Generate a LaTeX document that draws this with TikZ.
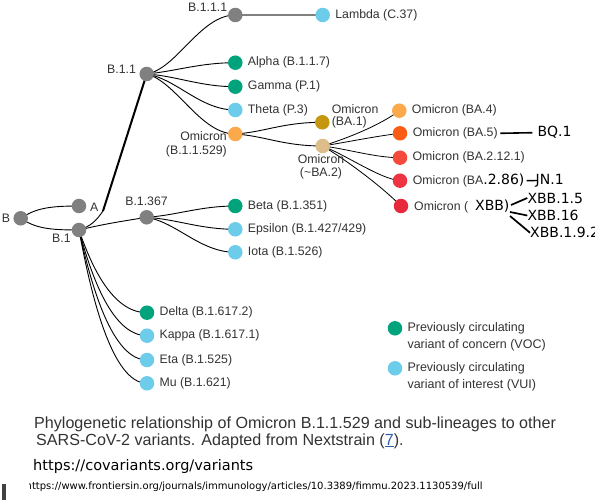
\documentclass[tikz,border=0pt]{standalone}
\usepackage{fontspec}
\setmainfont{Liberation Sans}
\newfontfamily\dejavu{DejaVu Sans}
\usetikzlibrary{backgrounds}
\definecolor{cgray}{HTML}{808080}
\definecolor{cgreen}{HTML}{00A37C}
\definecolor{cblue}{HTML}{6CCCEA}
\definecolor{cbafour}{HTML}{FBA94B}
\definecolor{cbaone}{HTML}{C5970F}
\definecolor{cbatwo}{HTML}{DDBE8A}
\definecolor{cbafive}{HTML}{F95C12}
\definecolor{cbatwelve}{HTML}{F4493B}
\definecolor{cbaeightsix}{HTML}{EE3442}
\definecolor{cxbb}{HTML}{E8283B}
\definecolor{ctext}{HTML}{333333}
\definecolor{clink}{HTML}{2A5DB0}
\begin{document}
\begin{tikzpicture}[x=1pt,y=-1pt,
  dot/.style={circle,inner sep=0pt,minimum size=14.5pt,fill=#1,draw=none},
  lab/.style={font=\fontsize{12.3}{13.7}\selectfont,text=ctext,inner sep=0pt},
  leaf/.style={label={[lab,label distance=5pt]0:#1}},
  edge/.style={draw=black,line width=0.9pt},
  big/.style={font=\dejavu\fontsize{14}{16}\selectfont,inner sep=0pt,text=black},
  conn/.style={draw=black,line width=1.6pt},
  captext/.style={font=\fontsize{16.1}{17}\selectfont,text=ctext,inner sep=0pt,anchor=west},
]
\useasboundingbox (0,0) rectangle (595,500);

% ---- tree nodes ----
\node[dot=cgray] (B) at (20.7,218.3) {};
\node[lab,anchor=west] (Bl) at (1.7,218.3) {B};
\node[dot=cgray] (A) at (79,206) {};
\node[lab,anchor=west] (Al) at (90,207) {A};
\node[dot=cgray] (B1) at (79,230) {};
\node[lab,anchor=west] (B1l) at (52,238) {B.1};
\node[dot=cgray] (B11) at (146.7,74) {};
\node[lab,anchor=west] (B11l) at (107,69) {B.1.1};
\node[dot=cgray] (B111) at (235.3,15) {};
\node[lab,anchor=west] (B111l) at (188,7) {B.1.1.1};
\node[dot=cblue,leaf={Lambda (C.37)}] (lam) at (322.7,15) {};
\node[dot=cgreen,leaf={Alpha (B.1.1.7)}] (alpha) at (235.3,62.7) {};
\node[dot=cgreen,leaf={Gamma (P.1)}] (gamma) at (235.3,86.7) {};
\node[dot=cblue,leaf={Theta (P.3)}] (theta) at (235.3,110) {};
\node[dot=cbafour] (om) at (235.3,134) {};
\node[lab,anchor=east,align=right] (oml) at (227,144) {Omicron\\(B.1.1.529)};
\node[dot=cbaone] (ba1) at (322.3,122.3) {};
\node[lab,anchor=west,align=left,font=\fontsize{12.3}{12.4}\selectfont] (ba1l) at (331.7,116.2) {Omicron\\(BA.1)};
\node[dot=cbatwo] (ba2) at (322.7,146) {};
\node[lab,align=center,font=\fontsize{12.3}{12.4}\selectfont] (ba2l) at (321,167) {Omicron\\(\textasciitilde BA.2)};
\node[dot=cbafour,leaf={Omicron (BA.4)}] (ba4) at (399.3,110.7) {};
\node[dot=cbafive] (ba5) at (400,133.3) {};
\node[lab,anchor=west] (ba5l) at (412.7,133.3) {Omicron (BA.5)};
\node[dot=cbatwelve,leaf={Omicron (BA.2.12.1)}] (ba212) at (400,157.7) {};
\node[dot=cbaeightsix] (ba286) at (400,180.7) {};
\node[lab,anchor=west] (ba286l) at (412.7,180.7) {Omicron (BA{\dejavu\fontsize{14}{16}\selectfont\color{black}.2.86)}};
\node[dot=cxbb] (xbb) at (401,206) {};
\node[lab,anchor=west] (xbbl) at (414,206) {Omicron (\hspace{7pt}{\dejavu\fontsize{14}{16}\selectfont\color{black}XBB)}};

\node[big,anchor=west] (bq1) at (537.3,132.7) {BQ.1};
\node[big,anchor=west] (jn1) at (535.5,180.5) {JN.1};
\node[big,anchor=west] (x15) at (527.3,198) {XBB.1.5};
\node[big,anchor=west] (x16) at (527.3,215.5) {XBB.16};
\node[big,anchor=west] (x192) at (530,232.7) {XBB.1.9.2};

\node[dot=cgray] (B1367) at (146.7,217.3) {};
\node[lab] (B1367l) at (146.5,201.7) {B.1.367};
\node[dot=cgreen,leaf={Beta (B.1.351)}] (beta) at (235.3,206) {};
\node[dot=cblue,leaf={Epsilon (B.1.427/429)}] (eps) at (235.3,229.3) {};
\node[dot=cblue,leaf={Iota (B.1.526)}] (iota) at (235.3,252.3) {};

\node[dot=cgreen,leaf={Delta (B.1.617.2)}] (delta) at (147,312.7) {};
\node[dot=cblue,leaf={Kappa (B.1.617.1)}] (kappa) at (147,335.7) {};
\node[dot=cblue,leaf={Eta (B.1.525)}] (eta) at (147,360) {};
\node[dot=cblue,leaf={Mu (B.1.621)}] (mu) at (147,383.3) {};

% ---- legend ----
\node[dot=cgreen] (lg1) at (395,328.3) {};
\node[lab,anchor=west,align=left,font=\fontsize{12.5}{16.5}\selectfont] (lg1t) at (407.3,336.6) {Previously circulating\\variant of concern (VOC)};
\node[dot=cblue] (lg2) at (395,368.3) {};
\node[lab,anchor=west,align=left,font=\fontsize{12.5}{16.5}\selectfont] (lg2t) at (407.3,376.6) {Previously circulating\\variant of interest (VUI)};

% ---- caption ----
\node[captext] (cap1) at (34,424) {Phylogenetic relationship of Omicron B.1.1.529 and sub-lineages to other};
\node[captext] (cap2) at (36,441) { SARS-CoV-2 variants. Adapted from Nextstrain ({\color{clink}\underline{7}}).};
\node[anchor=west,inner sep=0pt] (url1) at (33,466) {\resizebox{220pt}{!}{\dejavu\fontsize{14}{16}\selectfont https://covariants.org/variants}};
\begin{scope}
\clip (29.5,475) rectangle (595,500);
\node[anchor=west,inner sep=0pt] (url2) at (25.5,487) {\resizebox{457pt}{!}{\dejavu\fontsize{10}{12}\selectfont https://www.frontiersin.org/journals/immunology/articles/10.3389/fimmu.2023.1130539/full}};
\end{scope}
\fill[black!75] (2,484) rectangle (6,500);

% ---- connectors ----
\coordinate (jn) at (103,211);
\coordinate (j1) at (511,205);
\coordinate (j2) at (510,212);
\coordinate (j3) at (510,216);
\begin{pgfonlayer}{background}
\fill[white] (0,0) rectangle (595,500);
\draw[edge] (B.center) .. controls +(15,-10) and +(-30,0) .. (A.center);
\draw[edge] (B.center) .. controls +(15,10) and +(-30,0) .. (B1.center);
\draw[edge] (B1.center) .. controls +(12,-4) and +(-7,10) .. (jn);
\draw[edge,line width=2pt] (jn) -- (B11.center);
\draw[edge] (B1.center) .. controls +(25,-6) and +(-25,4) .. (B1367.center);
\draw[edge] (B1.center) .. controls +(12,35) and +(-35,0) .. (delta.center);
\draw[edge] (B1.center) .. controls +(12,45) and +(-35,0) .. (kappa.center);
\draw[edge] (B1.center) .. controls +(12,55) and +(-35,0) .. (eta.center);
\draw[edge] (B1.center) .. controls +(12,65) and +(-35,0) .. (mu.center);
\draw[edge] (B11.center) .. controls +(30,-5) and +(-35,0) .. (B111.center);
\draw[draw=cgray,line width=1.3pt] (B111.center) -- (lam.center);
\draw[edge] (B11.center) .. controls +(30,-3) and +(-35,0) .. (alpha.center);
\draw[edge] (B11.center) .. controls +(30,2) and +(-35,0) .. (gamma.center);
\draw[edge] (B11.center) .. controls +(30,5) and +(-35,0) .. (theta.center);
\draw[edge] (B11.center) .. controls +(30,8) and +(-35,0) .. (om.center);
\draw[edge] (om.center) .. controls +(30,-2) and +(-40,0) .. (ba1.center);
\draw[edge] (om.center) .. controls +(30,2) and +(-40,0) .. (ba2.center);
\draw[edge,line width=0.8pt] (ba2.center) .. controls +(25,-8) and +(-20,15) .. (ba4.center);
\draw[edge,line width=0.8pt] (ba2.center) .. controls +(25,-4) and +(-25,3) .. (ba5.center);
\draw[edge,line width=0.8pt] (ba2.center) .. controls +(25,3) and +(-25,0) .. (ba212.center);
\draw[edge,line width=0.8pt] (ba2.center) .. controls +(25,10) and +(-20,-2) .. (ba286.center);
\draw[edge,line width=0.8pt] (ba2.center) .. controls +(25,15) and +(-20,-20) .. (xbb.center);
\draw[edge] (B1367.center) .. controls +(30,-2) and +(-35,0) .. (beta.center);
\draw[edge] (B1367.center) .. controls +(30,2) and +(-35,0) .. (eps.center);
\draw[edge] (B1367.center) .. controls +(30,5) and +(-35,0) .. (iota.center);
\end{pgfonlayer}
\draw[conn] ([xshift=2.5pt]ba5l.east) -- ([xshift=-5pt]bq1.west);
\draw[conn,line width=1.4pt] ([xshift=2pt]ba286l.east) -- ([xshift=1.5pt]jn1.west);
\draw[conn,line width=1.7pt] (j1) -- (x15.west);
\draw[conn,line width=1.7pt] (j2) -- (x16.west);
\draw[conn,line width=1.7pt] (j3) -- (x192.west);
\end{tikzpicture}
\end{document}
